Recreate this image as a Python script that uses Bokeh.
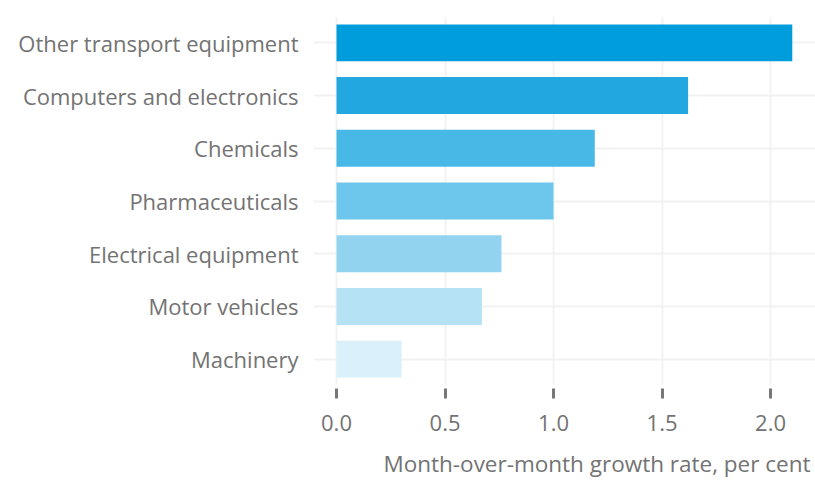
from bokeh.plotting import figure
from bokeh.models import FactorRange, Range1d, ColumnDataSource, Title, FixedTicker, NumeralTickFormatter
from bokeh.embed import file_html
from bokeh.resources import INLINE

categories = ["Other transport equipment", "Computers and electronics", "Chemicals",
              "Pharmaceuticals", "Electrical equipment", "Motor vehicles", "Machinery"]
values = [2.10, 1.62, 1.19, 1.00, 0.76, 0.67, 0.30]
colors = ["#009ddc", "#22a7e0", "#48b8e6", "#6dc7ec", "#92d4ef", "#b5e2f5", "#daf0fb"]
x_ticks = [0.0, 0.5, 1.0, 1.5, 2.0]
x_title = "Month-over-month growth rate, per cent"

FONT = "Open Sans"
GREY = "#737373"

src = ColumnDataSource(dict(cat=categories, val=values, color=colors))

p = figure(y_range=FactorRange(*reversed(categories)), x_range=Range1d(-0.106, 2.207),
           frame_width=502, frame_height=369,
           min_border_left=313, min_border_right=0, min_border_top=16, min_border_bottom=0,
           output_backend="svg", toolbar_location=None)
p.hbar(y="cat", right="val", left=0, height=0.7, color="color", line_color=None, source=src)

p.outline_line_color = None
p.background_fill_color = "white"
p.border_fill_color = "white"

for g in (p.xgrid, p.ygrid):
    g.grid_line_color = "#f2f2f2"
    g.grid_line_width = 2
p.xaxis.ticker = FixedTicker(ticks=x_ticks)
p.xaxis.formatter = NumeralTickFormatter(format="0.0")
p.xaxis.minor_tick_line_color = None
p.xaxis.axis_line_color = None
p.xaxis.major_tick_line_color = "#777777"
p.xaxis.major_tick_line_width = 3
p.xaxis.major_tick_in = -3
p.xaxis.major_tick_out = 13
p.xaxis.major_label_standoff = 16
p.xaxis.major_label_text_font = FONT
p.xaxis.major_label_text_font_size = "22px"
p.xaxis.major_label_text_color = GREY

p.yaxis.axis_line_color = None
p.yaxis.major_tick_line_color = None
p.yaxis.minor_tick_line_color = None
p.yaxis.major_label_standoff = 9
p.yaxis.major_label_text_font = FONT
p.yaxis.major_label_text_font_size = "22px"
p.yaxis.major_label_text_color = GREY

t = Title(text=x_title, align="right", offset=5, text_font=FONT, text_font_size="22.5px",
          text_font_style="normal", text_color=GREY, standoff=24)
p.add_layout(t, "below")

open("out.html", "w").write(file_html(p, INLINE))
